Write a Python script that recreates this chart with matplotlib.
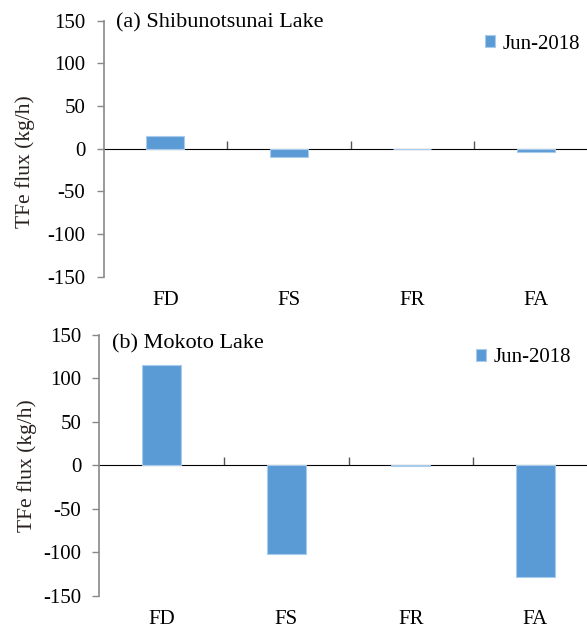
import matplotlib
matplotlib.use('Agg')
import matplotlib.pyplot as plt
import numpy as np

plt.rcParams.update({'font.family': 'Liberation Serif', 'font.size': 15,
                     'figure.facecolor': 'white', 'axes.facecolor': 'white'})

BAR = '#5B9BD5'
EDGE = '#A9CBEC'
AXIS = '#898989'

categories = ['FD', 'FS', 'FR', 'FA']
season = 'Jun-2018'
shibunotsunai = [15, -10, 0, -4]
mokoto = [115, -102, -1, -128]
yticks = [-150, -100, -50, 0, 50, 100, 150]

fig = plt.figure(figsize=(5.87, 6.33), dpi=100)
ax_a = fig.add_axes([0.1764, 0.5629, 0.8416, 0.4044])
ax_b = fig.add_axes([0.1695, 0.0585, 0.8484, 0.4123])


def draw_panel(ax, values, title, title_y, leg_anchor, ylab_xpix, ylab_y):
    x = np.arange(len(categories))
    ax.bar(x, values, width=0.31, color=BAR, edgecolor=EDGE, linewidth=0.8,
           label=season, zorder=2)
    ax.set_xlim(-0.5, len(categories) - 0.5)
    ax.set_ylim(-150, 150)
    ax.set_yticks(yticks)
    ax.set_yticklabels([str(t) for t in yticks])
    ax.set_xticks(x)
    ax.set_xticklabels(categories)
    ax.tick_params(axis='x', length=0, pad=10)
    ax.tick_params(axis='y', direction='out', length=5, width=1, color=AXIS, pad=8)
    for side in ['top', 'right', 'bottom']:
        ax.spines[side].set_visible(False)
    ax.spines['left'].set_color(AXIS)
    ax.spines['left'].set_linewidth(1.2)

    # category axis drawn through zero, with ticks between categories
    zero = ax.secondary_xaxis(0.5)
    zero.set_xticks(x[:-1] + 0.5)
    zero.set_xticklabels([])
    zero.tick_params(direction='out', length=6, width=1, color='#555555')
    zero.spines['bottom'].set_color(AXIS)
    zero.spines['bottom'].set_linewidth(1.2)

    ax.set_ylabel('TFe flux (kg/h)', fontsize=15.5, color='#2a2220')
    x0 = ax.get_position().x0 * fig.bbox.width
    ax.yaxis.set_label_coords((ylab_xpix - x0) / ax.bbox.width, ylab_y)

    ax.text(0.025, title_y, title, transform=ax.transAxes, fontsize=16,
            va='center', ha='left')
    ax.legend(loc='upper right', bbox_to_anchor=leg_anchor, frameon=False,
              handlelength=0.5, handleheight=0.5, handletextpad=0.35,
              borderpad=0, borderaxespad=0, fontsize=15)


draw_panel(ax_a, shibunotsunai, '(a) Shibunotsunai Lake', 0.99, (0.965, 0.945), 35, 0.45)
draw_panel(ax_b, mokoto, '(b) Mokoto Lake', 0.967, (0.947, 0.95), 37, 0.5)

fig.savefig('out.png', dpi=100)
